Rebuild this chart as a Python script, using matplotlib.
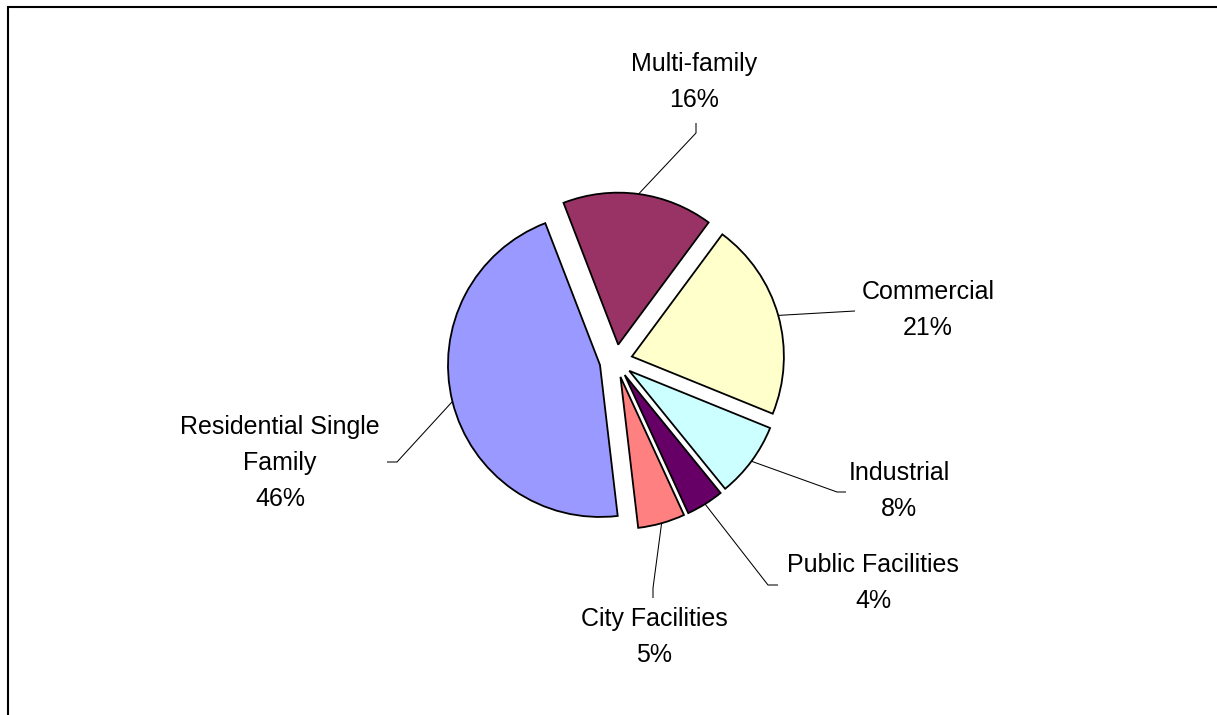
import numpy as np
import matplotlib.pyplot as plt
from matplotlib.patches import Rectangle

W, H = 1217, 715

# slices in drawing order (clockwise from the first slice angle)
categories = ["Commercial", "Industrial", "Public Facilities", "City Facilities",
              "Residential Single\nFamily", "Multi-family"]
shares = [21, 8, 4, 5, 46, 16]
colors = ["#FFFFCC", "#CCFFFF", "#660066", "#FF8080", "#9999FF", "#993366"]

# layout, in picture pixels (y down): label centre and leader points from label side
label_xy = [(928, 310), (899, 491), (873, 583), (654, 637), (280, 463), (694, 82)]
leader_pts = [
    [(855, 311)],
    [(837, 492), (846, 492)],
    [(768, 585), (778, 585)],
    [(653, 588), (653, 598)],
    [(397, 462), (387, 462)],
    [(696, 133), (696, 123)],
]

CX, CY = 616, 361
RADIUS = 152
EXPLODE = 16.5
FIRST_ANGLE = 36.5   # degrees clockwise from 12 o'clock


def flip(pt):
    return pt[0], H - pt[1]


fig = plt.figure(figsize=(W / 100, H / 100), dpi=100)
ax = fig.add_axes([0, 0, 1, 1])

wedges, _ = ax.pie(shares, colors=colors, radius=RADIUS, center=flip((CX, CY)),
                   explode=[EXPLODE] * len(shares), startangle=90 - FIRST_ANGLE,
                   counterclock=False,
                   wedgeprops=dict(edgecolor="black", linewidth=1.3))

for w, name, share, xy, pts in zip(wedges, categories, shares, label_xy, leader_pts):
    mid = np.deg2rad((w.theta1 + w.theta2) / 2)
    arc = (w.center[0] + w.r * np.cos(mid), w.center[1] + w.r * np.sin(mid))
    path = [arc] + [flip(p) for p in pts]
    ax.plot([p[0] for p in path], [p[1] for p in path], color="black", lw=0.75,
            solid_capstyle="butt")
    tx, ty = flip(xy)
    ax.text(tx, ty, f"{name}\n{share}%", ha="center", va="center",
            fontsize=18, family="Liberation Sans", linespacing=1.62)

# chart area border (right and bottom edges fall outside the picture)
ax.add_patch(Rectangle((8, -20), W + 20, H - 7 + 20, fill=False,
                       edgecolor="black", linewidth=1.5))

ax.set_xlim(0, W)
ax.set_ylim(0, H)
ax.set_aspect("equal")
ax.axis("off")

fig.savefig("out.png", dpi=100)
